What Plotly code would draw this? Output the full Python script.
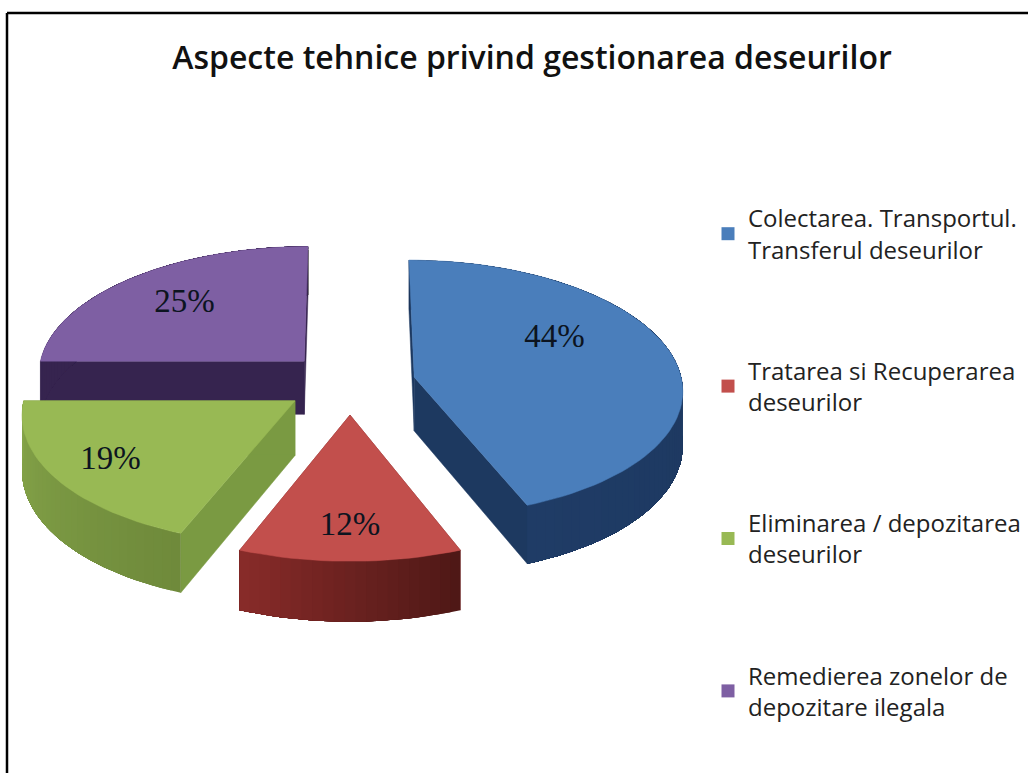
import math
import plotly.graph_objects as go

# --- data ---
categories = [
    "Colectarea. Transportul.<br>Transferul deseurilor",
    "Tratarea si Recuperarea<br>deseurilor",
    "Eliminarea / depozitarea<br>deseurilor",
    "Remedierea zonelor de<br>depozitare ilegala",
]
shares = [44, 12, 19, 25]
title_text = "Aspecte tehnice privind gestionarea deseurilor"

# --- style ---
top_colors = ["#4a7ebb", "#c24f4c", "#98b954", "#7e5fa3"]
cut_colors = ["#1d3960", "#7a2826", "#7a9a42", "#36244f"]
side_from = ["#1f3c66", "#8a2c2a", "#86a64a", "#36244f"]
side_to = ["#1b3459", "#4f1816", "#6f8a3b", "#36244f"]
paint_order = [0, 3, 2, 1]
label_shift_deg = [-19, 0, 0, 0]
label_radius = [0.63, 0.78, 0.78, 0.68]

CX, CY = 350, 383       # pie centre on the page
RX, RY = 268, 128       # radii of the pie
PX, PY = 0.09, 0.0854   # perspective strength
PULL = 0.245            # explosion of each slice
DEPTH = 54              # thickness


def project(u, v, h=0.0):
    x = CX + RX * u / (1 - PX * v)
    y = CY + RY * v / (1 - PY * v) + h / (1 - PY * v)
    return x, y


def polar(theta, r, mid):
    a, m = math.radians(theta), math.radians(mid)
    u = PULL * math.sin(m) + r * math.sin(a)
    v = -PULL * math.cos(m) - r * math.cos(a)
    return u, v


def mix(c1, c2, t):
    a = [int(c1[i:i + 2], 16) for i in (1, 3, 5)]
    b = [int(c2[i:i + 2], 16) for i in (1, 3, 5)]
    return "rgb(%d,%d,%d)" % tuple(round(p + (q - p) * t) for p, q in zip(a, b))


def poly(points, color, width=0.0):
    xs = [p[0] for p in points] + [points[0][0]]
    ys = [p[1] for p in points] + [points[0][1]]
    return go.Scatter(x=xs, y=ys, mode="lines", fill="toself", fillcolor=color,
                      line=dict(color=color, width=width), showlegend=False,
                      hoverinfo="skip")


total = sum(shares)
spans = []
start = 0.0
for s in shares:
    spans.append((start, start + s / total * 360))
    start += s / total * 360

fig = go.Figure()
label_x, label_y, label_t = [], [], []

for i in paint_order:
    a0, a1 = spans[i]
    mid = (a0 + a1) / 2
    steps = max(8, int((a1 - a0) / 2))
    thetas = [a0 + (a1 - a0) * k / steps for k in range(steps + 1)]
    apex = polar(0, 0, mid)
    # cut faces
    for edge in (a0, a1):
        e = polar(edge, 1, mid)
        fig.add_trace(poly([project(*apex), project(*e), project(*e, DEPTH),
                            project(*apex, DEPTH)], cut_colors[i], 0.5))
    # outer wall: each strip is painted from its start to the end of the wall,
    # so that the next one covers it and no seams show
    for k in range(steps):
        tail = thetas[k:]
        upper = [project(*polar(t, 1, mid)) for t in tail]
        lower = [project(*polar(t, 1, mid), DEPTH) for t in tail]
        fig.add_trace(poly(upper + lower[::-1], mix(side_to[i], side_from[i], k / steps)))
    # top face
    rim = [project(*polar(t, 1, mid)) for t in thetas]
    fig.add_trace(poly([project(*apex)] + rim, top_colors[i], 0.5))
    lx, ly = project(*polar(mid + label_shift_deg[i], label_radius[i], mid))
    label_x.append(lx)
    label_y.append(ly)
    label_t.append("%d%%" % shares[i])

fig.add_trace(go.Scatter(x=label_x, y=label_y, text=label_t, mode="text",
                         textposition="middle center", showlegend=False, hoverinfo="skip",
                         textfont=dict(family="Liberation Serif", size=33, color="#0c1420")))

# legend entries
for i, name in enumerate(categories):
    fig.add_trace(go.Scatter(x=[None], y=[None], mode="markers", name=name,
                             legendgroup=str(i),
                             marker=dict(symbol="square", size=13, color=top_colors[i])))

fig.update_layout(
    width=1028, height=773, autosize=False,
    margin=dict(l=0, r=0, t=0, b=0),
    paper_bgcolor="white", plot_bgcolor="white",
    xaxis=dict(range=[0, 1028], visible=False, fixedrange=True),
    yaxis=dict(range=[773, 0], visible=False, fixedrange=True),
    title=dict(text=title_text, x=532 / 1028, xanchor="center", y=1 - 58 / 773, yanchor="middle",
               font=dict(family="Open Sans", size=32, color="#111111", weight=600)),
    legend=dict(x=708 / 1028, xanchor="left", y=1 - 196 / 773, yanchor="top",
                font=dict(family="Open Sans", size=24, color="#222222"),
                tracegroupgap=87, itemwidth=30, bgcolor="rgba(0,0,0,0)"),
    shapes=[
        dict(type="line", xref="paper", yref="paper", x0=7 / 1028, x1=1, y0=1 - 13 / 773, y1=1 - 13 / 773,
             line=dict(color="black", width=2.5)),
        dict(type="line", xref="paper", yref="paper", x0=7 / 1028, x1=7 / 1028, y0=0, y1=1 - 13 / 773,
             line=dict(color="black", width=2.5)),
    ],
)
fig.write_html("out.html", post_script="document.body.style.margin='0';",
               config={"displayModeBar": False})
